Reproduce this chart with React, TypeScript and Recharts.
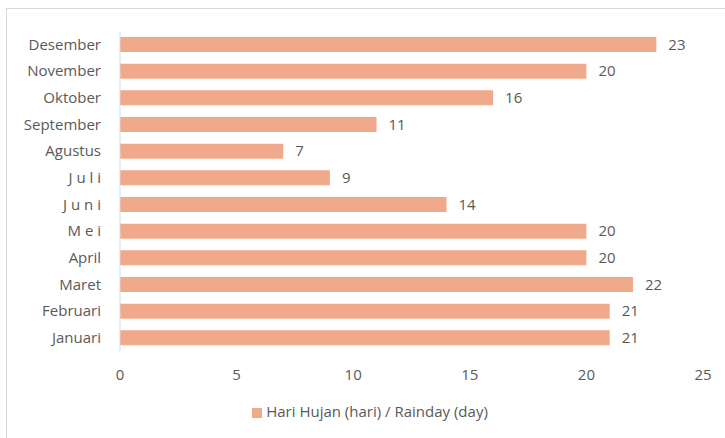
import { Bar, BarChart, XAxis, YAxis, Legend, LabelList } from 'recharts';

const months = [
  'Desember', 'November', 'Oktober', 'September', 'Agustus', 'J u l i',
  'J u n i', 'M e i', 'April', 'Maret', 'Februari', 'Januari',
];
const rainDays = [23, 20, 16, 11, 7, 9, 14, 20, 20, 22, 21, 21];
const xTicks = [0, 5, 10, 15, 20, 25];

const data = months.map((m, i) => ({ month: m, days: rainDays[i] }));

const font = 'Open Sans, sans-serif';
const textColor = '#595959';

export default function App() {
  return (
    <div style={{ position: 'absolute', left: 0, top: 0, width: 725, height: 438, overflow: 'hidden', background: '#fff' }}>
      <div style={{ position: 'absolute', left: 6, top: 8, width: 800, height: 500, border: '1px solid #d9d9d9' }} />
      <BarChart
        layout="vertical"
        width={725}
        height={438}
        data={data}
        margin={{ top: 31, right: 22, bottom: 46, left: 0 }}
        style={{ fontFamily: font }}
      >
        <XAxis
          type="number"
          domain={[0, 25]}
          ticks={xTicks}
          axisLine={false}
          tickLine={false}
          tickMargin={12}
          height={41}
          tick={{ fill: textColor, fontSize: 15 }}
        />
        <YAxis
          type="category"
          dataKey="month"
          width={120}
          axisLine={{ stroke: '#d9d9d9' }}
          tickLine={false}
          tickMargin={13}
          tick={{ fill: textColor, fontSize: 15 }}
        />
        <Legend
          verticalAlign="middle"
          align="center"
          iconType="square"
          iconSize={10}
          wrapperStyle={{ top: 401, left: 240, width: 270, fontSize: 15 }}
          formatter={(v) => <span style={{ color: textColor }}>{v}</span>}
        />
        <Bar dataKey="days" name="Hari Hujan (hari) / Rainday (day)" fill="#F0A98A" barSize={15} isAnimationActive={false}>
          <LabelList dataKey="days" position="right" offset={12} fill={textColor} fontSize={15} />
        </Bar>
      </BarChart>
    </div>
  );
}
